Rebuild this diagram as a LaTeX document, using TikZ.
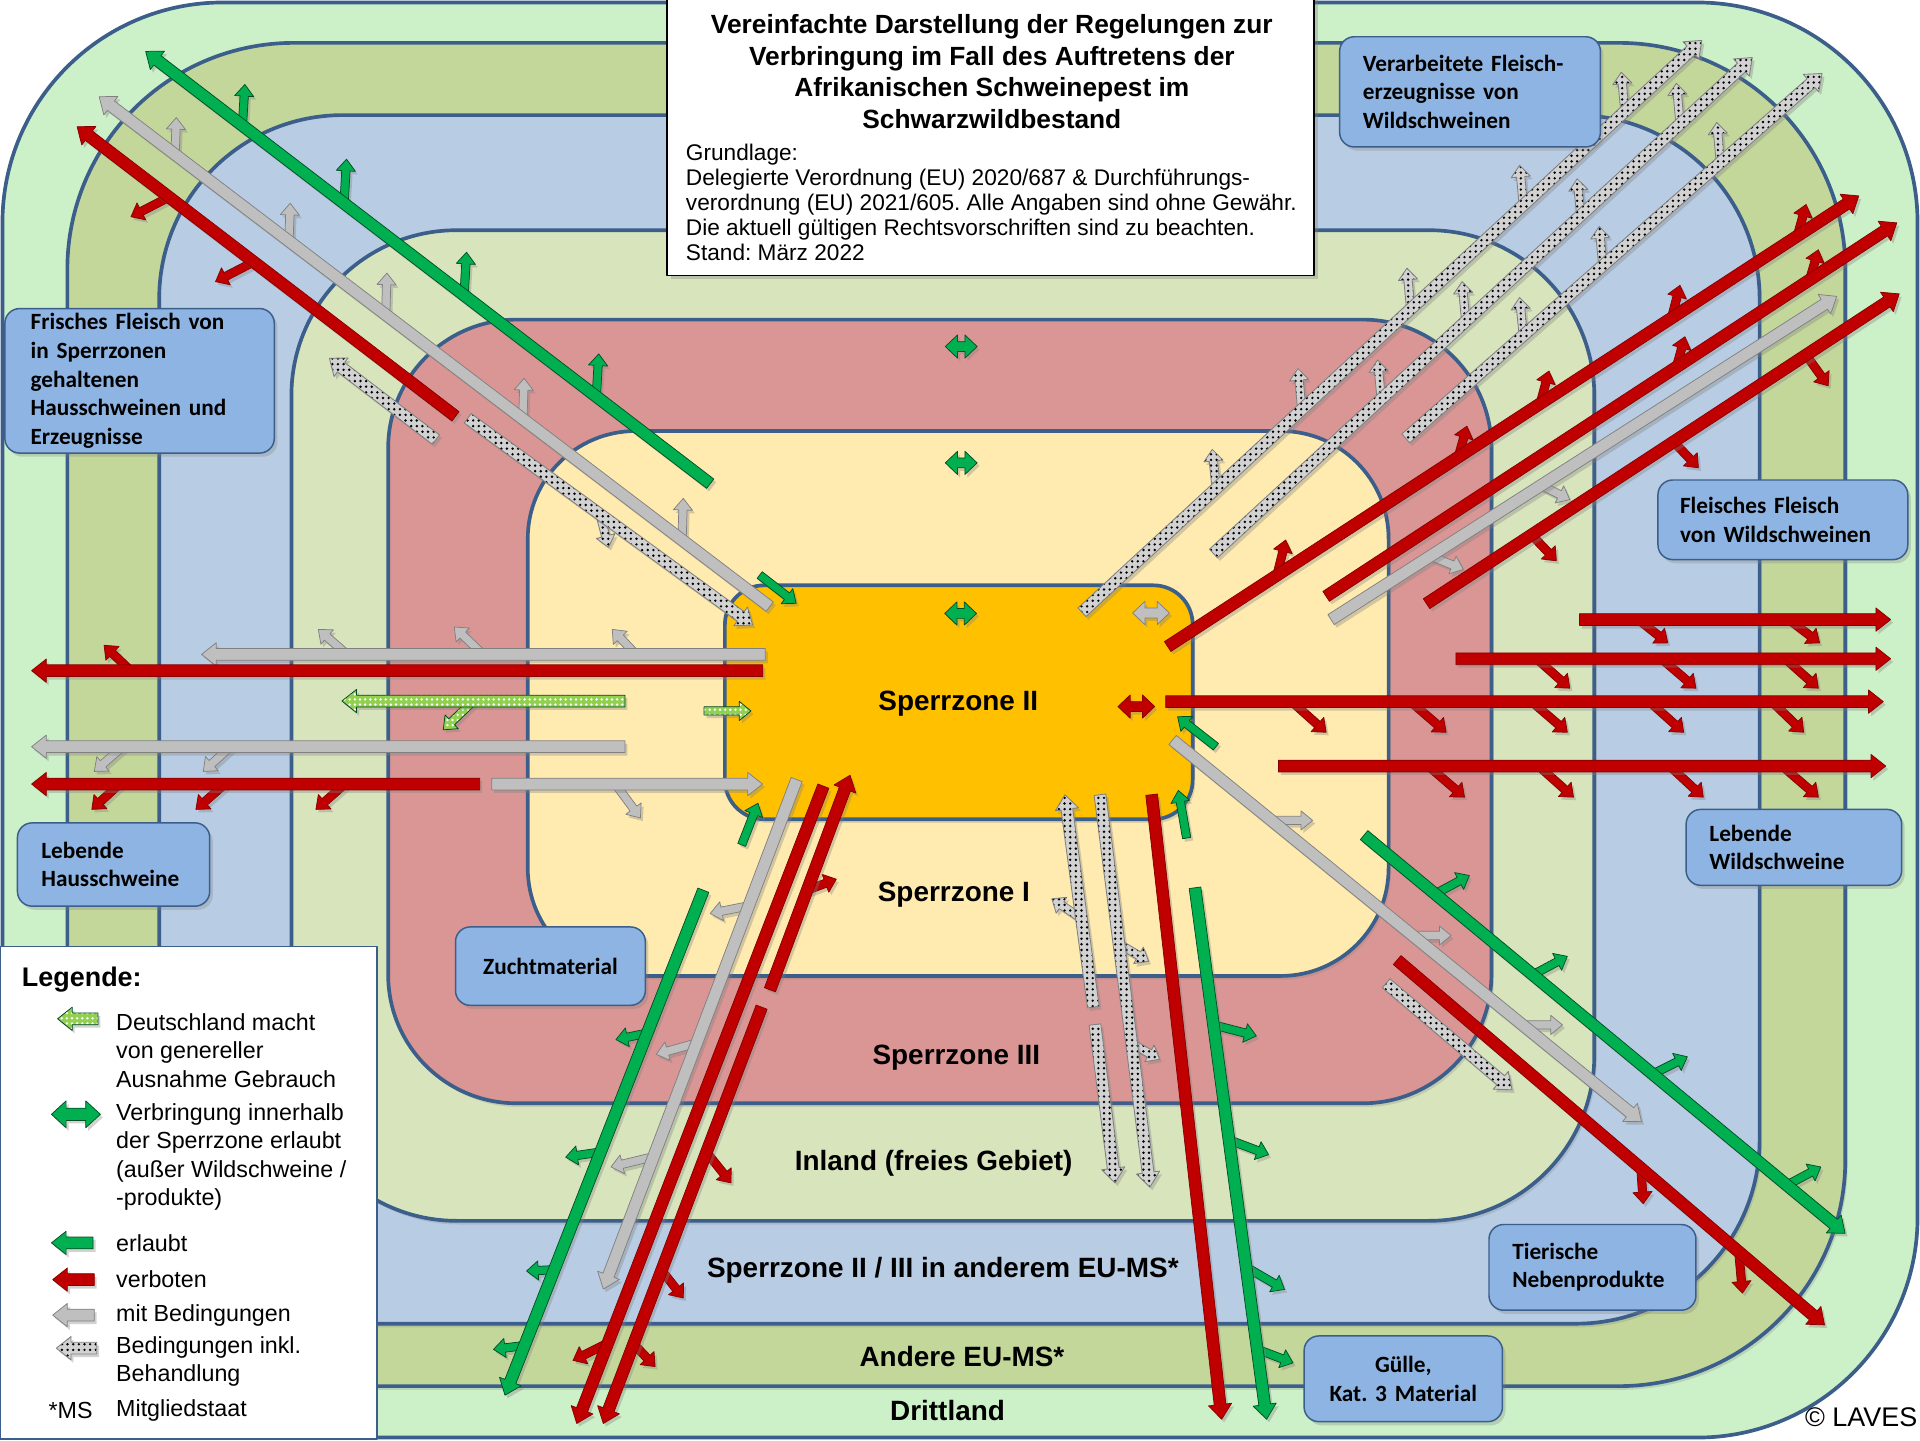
\documentclass[tikz,border=0pt]{standalone}
\usepackage{fontspec}
\setmainfont{Liberation Sans}
\newfontfamily\calfont{Carlito}
\usetikzlibrary{shadows,patterns.meta}
\frenchspacing

\definecolor{cdritt}{RGB}{204,240,200}
\definecolor{cander}{RGB}{196,215,155}
\definecolor{cblue}{RGB}{184,204,228}
\definecolor{cinland}{RGB}{216,228,188}
\definecolor{csztri}{RGB}{218,150,148}
\definecolor{cszone}{RGB}{255,235,175}
\definecolor{csztwo}{RGB}{255,192,0}
\definecolor{zoneline}{RGB}{59,94,138}
\definecolor{boxblue}{RGB}{141,180,226}
\definecolor{ared}{RGB}{192,0,0}
\definecolor{agreen}{RGB}{0,176,80}
\definecolor{agray}{RGB}{191,191,191}
\definecolor{adot}{RGB}{210,210,210}
\definecolor{adotgreen}{RGB}{146,208,80}

% block arrow: shaft half width, head half width, head length, style, x1, y1, x2 (tip), y2
\newcommand{\arrowpoly}[8]{%
  \pgfmathsetmacro{\adx}{#7-#5}%
  \pgfmathsetmacro{\ady}{#8-#6}%
  \pgfmathsetmacro{\alen}{veclen(\adx,\ady)}%
  \pgfmathsetmacro{\aux}{\adx/\alen}%
  \pgfmathsetmacro{\auy}{\ady/\alen}%
  \pgfmathsetmacro{\bx}{#7-#3*\aux}%
  \pgfmathsetmacro{\by}{#8-#3*\auy}%
  \draw[#4] ({#5-#1*\auy},{#6+#1*\aux}) -- ({\bx-#1*\auy},{\by+#1*\aux}) -- ({\bx-#2*\auy},{\by+#2*\aux}) -- (#7,#8)
    -- ({\bx+#2*\auy},{\by-#2*\aux}) -- ({\bx+#1*\auy},{\by-#1*\aux}) -- ({#5+#1*\auy},{#6-#1*\aux}) -- cycle;}
\newcommand{\bigarrow}[5]{\arrowpoly{4.8}{9.5}{12}{#1}{#2}{#3}{#4}{#5}}
\newcommand{\tinyarrow}[5]{\arrowpoly{3.4}{7.8}{9.5}{#1}{#2}{#3}{#4}{#5}}
% style, cx, cy, half length, shaft half width, head half width, head length
\newcommand{\dblarrow}[7]{%
  \draw[#1] ({#2-#4},#3) -- ({#2-#4+#7},{#3-#6}) -- ({#2-#4+#7},{#3-#5}) -- ({#2+#4-#7},{#3-#5}) -- ({#2+#4-#7},{#3-#6}) -- ({#2+#4},#3)
    -- ({#2+#4-#7},{#3+#6}) -- ({#2+#4-#7},{#3+#5}) -- ({#2-#4+#7},{#3+#5}) -- ({#2-#4+#7},{#3+#6}) -- cycle;}

\begin{document}
\begin{tikzpicture}[x=1pt,y=-1pt,line join=round,
  zone/.style={draw=zoneline,line width=3pt},
  zshadow/.style={drop shadow={opacity=0.25,shadow xshift=2pt,shadow yshift=-3pt}},
  ashadow/.style={drop shadow={opacity=0.35,shadow xshift=2pt,shadow yshift=-2.5pt}},
  redarr/.style={ashadow,fill=ared,draw=ared!70!black,line width=0.6pt},
  greenarr/.style={ashadow,fill=agreen,draw=agreen!45!black,line width=0.6pt},
  grayarr/.style={ashadow,fill=agray,draw=black!50,line width=0.6pt},
  dotarr/.style={ashadow,preaction={fill=adot},pattern={Dots[distance=4.6pt,radius=1.1pt]},pattern color=black,draw=black!50,line width=0.7pt},
  dotgreenarr/.style={ashadow,preaction={fill=adotgreen},pattern={Dots[distance=4.2pt,radius=1.1pt]},pattern color=white,draw=agreen!40!black,line width=0.6pt},
  labelbox/.style={draw=zoneline,line width=1.2pt,fill=boxblue,rounded corners=12pt,
    drop shadow={opacity=0.3,shadow xshift=2.5pt,shadow yshift=-3pt},
    font=\calfont\bfseries\fontsize{19}{23.3}\selectfont,inner ysep=0pt},
  zonelabel/.style={font=\bfseries\fontsize{22.8}{26}\selectfont},
  legendtext/.style={anchor=west,align=left,inner sep=0pt,font=\fontsize{19}{23.3}\selectfont}
]
\useasboundingbox (0,0) rectangle (1568,1176);

% zones
\draw[zone,fill=cdritt,rounded corners=180pt] (2,2) rectangle (1566,1174);
\draw[zone,zshadow,fill=cander,rounded corners=185pt] (55,35) rectangle (1507,1132);
\draw[zone,zshadow,fill=cblue,rounded corners=150pt] (130,94) rectangle (1437,1081);
\draw[zone,zshadow,fill=cinland,rounded corners=135pt] (238,188) rectangle (1302,997);
\draw[zone,zshadow,fill=csztri,rounded corners=105pt] (317,261) rectangle (1218,901);
\draw[zone,zshadow,fill=cszone,rounded corners=88pt] (431,352) rectangle (1134,797);
\draw[zone,zshadow,fill=csztwo,rounded corners=32pt] (592,478) rectangle (974,669);

% side arrows
\tinyarrow{greenarr}{198}{102}{200}{69}
\tinyarrow{greenarr}{281}{166}{283}{130}
\tinyarrow{greenarr}{379}{241}{381}{206}
\tinyarrow{greenarr}{487}{323}{489}{289}
\tinyarrow{grayarr}{143}{126}{144}{96}
\tinyarrow{grayarr}{236}{197}{237}{166}
\tinyarrow{grayarr}{315}{257}{316}{223}
\tinyarrow{grayarr}{427}{342}{428}{309}
\tinyarrow{grayarr}{557}{441}{558}{407}
\tinyarrow{redarr}{138}{161}{107}{177}
\tinyarrow{redarr}{207}{214}{176}{230}
\tinyarrow{dotarr}{490}{420}{497}{447}
\tinyarrow{grayarr}{283}{534}{260}{514}
\tinyarrow{grayarr}{394}{534}{371}{512}
\tinyarrow{grayarr}{519}{534}{500}{514}
\tinyarrow{redarr}{106}{547}{85}{527}
\tinyarrow{dotgreenarr}{386}{573}{362}{596}
\tinyarrow{grayarr}{100}{610}{77}{630}
\tinyarrow{grayarr}{188}{610}{166}{630}
\tinyarrow{redarr}{98}{640}{75}{661}
\tinyarrow{redarr}{184}{640}{160}{661}
\tinyarrow{redarr}{282}{640}{258}{661}
\tinyarrow{grayarr}{503}{641}{523}{668}
\tinyarrow{grayarr}{610}{740}{580}{746}
\tinyarrow{grayarr}{568}{852}{536}{861}
\tinyarrow{grayarr}{532}{945}{499}{953}
\tinyarrow{greenarr}{527}{844}{503}{849}
\tinyarrow{greenarr}{489}{941}{462}{945}
\tinyarrow{greenarr}{451}{1037}{430}{1038}
\tinyarrow{greenarr}{427}{1099}{403}{1102}
\tinyarrow{redarr}{659}{727}{683}{718}
\tinyarrow{redarr}{496}{1097}{468}{1111}
\tinyarrow{redarr}{577}{941}{597}{966}
\tinyarrow{redarr}{540}{1037}{558}{1060}
\tinyarrow{redarr}{517}{1097}{535}{1116}
\tinyarrow{dotarr}{883}{750}{859}{734}
\tinyarrow{dotarr}{914}{771}{938}{785}
\tinyarrow{dotarr}{924}{852}{947}{865}
\tinyarrow{greenarr}{991}{837}{1026}{846}
\tinyarrow{greenarr}{1004}{931}{1036}{943}
\tinyarrow{greenarr}{1018}{1035}{1049}{1053}
\tinyarrow{greenarr}{1027}{1102}{1056}{1113}
\tinyarrow{grayarr}{1040}{670}{1072}{670}
\tinyarrow{grayarr}{1152}{764}{1185}{764}
\tinyarrow{grayarr}{1243}{837}{1276}{837}
\tinyarrow{greenarr}{1172}{730}{1200}{715}
\tinyarrow{greenarr}{1252}{796}{1280}{781}
\tinyarrow{greenarr}{1350}{877}{1378}{863}
\tinyarrow{greenarr}{1459}{968}{1487}{953}
\tinyarrow{redarr}{1340}{953}{1342}{983}
\tinyarrow{redarr}{1420}{1022}{1423}{1056}
\tinyarrow{redarr}{1338}{506}{1362}{525}
\tinyarrow{redarr}{1461}{506}{1486}{525}
\tinyarrow{redarr}{1255}{538}{1282}{562}
\tinyarrow{redarr}{1357}{538}{1385}{562}
\tinyarrow{redarr}{1458}{538}{1485}{562}
\tinyarrow{redarr}{1055}{573}{1083}{598}
\tinyarrow{redarr}{1152}{573}{1181}{598}
\tinyarrow{redarr}{1251}{573}{1280}{598}
\tinyarrow{redarr}{1347}{573}{1375}{598}
\tinyarrow{redarr}{1447}{573}{1473}{598}
\tinyarrow{redarr}{1167}{626}{1196}{651}
\tinyarrow{redarr}{1257}{626}{1285}{651}
\tinyarrow{redarr}{1364}{626}{1391}{651}
\tinyarrow{redarr}{1456}{626}{1485}{651}
\tinyarrow{grayarr}{1258}{396}{1282}{408}
\tinyarrow{grayarr}{1168}{454}{1195}{465}
\tinyarrow{redarr}{1043}{469}{1050}{441}
\tinyarrow{redarr}{1191}{373}{1198}{348}
\tinyarrow{redarr}{1258}{329}{1265}{303}
\tinyarrow{redarr}{1365}{260}{1372}{233}
\tinyarrow{redarr}{1468}{192}{1475}{167}
\tinyarrow{redarr}{1369}{300}{1376}{275}
\tinyarrow{redarr}{1478}{228}{1485}{204}
\tinyarrow{redarr}{1251}{437}{1271}{458}
\tinyarrow{redarr}{1367}{361}{1387}{382}
\tinyarrow{redarr}{1475}{290}{1493}{315}
\tinyarrow{dotarr}{993}{397}{990}{367}
\tinyarrow{dotarr}{1063}{333}{1060}{301}
\tinyarrow{dotarr}{1152}{252}{1149}{219}
\tinyarrow{dotarr}{1244}{167}{1241}{135}
\tinyarrow{dotarr}{1327}{91}{1324}{59}
\tinyarrow{dotarr}{1128}{326}{1125}{294}
\tinyarrow{dotarr}{1197}{262}{1194}{230}
\tinyarrow{dotarr}{1291}{176}{1288}{146}
\tinyarrow{dotarr}{1372}{101}{1369}{68}
\tinyarrow{dotarr}{1244}{274}{1241}{243}
\tinyarrow{dotarr}{1309}{217}{1306}{185}
\tinyarrow{dotarr}{1405}{133}{1402}{100}

% main arrows
\bigarrow{greenarr}{580}{395}{119}{42}
\bigarrow{grayarr}{628.6}{495.4}{81}{79}
\bigarrow{redarr}{372}{340}{63}{103.5}
\bigarrow{dotarr}{356}{359}{269}{292.6}
\bigarrow{dotarr}{382}{341.6}{614.6}{510.4}
\bigarrow{grayarr}{625}{534.4}{164.6}{534.4}
\bigarrow{redarr}{623}{547.7}{25.8}{547.7}
\bigarrow{dotgreenarr}{510.4}{572.5}{279.2}{572.5}
\bigarrow{grayarr}{510.4}{609.8}{25.8}{609.8}
\bigarrow{redarr}{391.7}{640.3}{25.8}{640.3}
\bigarrow{grayarr}{401.6}{640.3}{622.7}{640.3}
\bigarrow{greenarr}{574.4}{727}{412.4}{1139.4}
\bigarrow{grayarr}{650.6}{636.6}{492.7}{1052.7}
\bigarrow{redarr}{628.8}{808.3}{694.2}{633.1}
\bigarrow{redarr}{672.4}{642}{471}{1162.5}
\bigarrow{redarr}{622}{822.5}{492.7}{1162.5}
\bigarrow{dotarr}{892.9}{822.5}{869.7}{649}
\bigarrow{dotarr}{898.3}{649}{939.1}{969.5}
\bigarrow{dotarr}{894.2}{836.7}{910.6}{966}
\bigarrow{redarr}{940.5}{649}{997.7}{1159}
\bigarrow{greenarr}{975.9}{725}{1034.4}{1159}
\bigarrow{grayarr}{957.6}{604.3}{1340.5}{916}
\bigarrow{greenarr}{1114}{682}{1506.8}{1007.2}
\bigarrow{redarr}{1141}{784}{1490}{1082}
\bigarrow{dotarr}{1132}{803}{1234.8}{890}
\bigarrow{redarr}{1290}{506}{1544}{506}
\bigarrow{redarr}{1189}{538}{1544}{538}
\bigarrow{redarr}{952}{573}{1538}{573}
\bigarrow{redarr}{1044}{625.6}{1540}{625.6}
\bigarrow{dotarr}{883.6}{500}{1389.8}{33}
\bigarrow{dotarr}{991}{452}{1431}{47}
\bigarrow{dotarr}{1148}{358}{1488}{60}
\bigarrow{redarr}{953.6}{528}{1518}{160}
\bigarrow{redarr}{1083}{487}{1549}{182}
\bigarrow{grayarr}{1087}{506}{1500}{242}
\bigarrow{redarr}{1165}{493}{1551}{240}

% short arrows at Sperrzone II
\tinyarrow{greenarr}{620.4}{469.6}{650.2}{492.7}
\tinyarrow{dotgreenarr}{575}{580.6}{613.3}{580.6}
\tinyarrow{greenarr}{605.7}{690}{619}{656}
\tinyarrow{greenarr}{969.1}{684.4}{962.3}{645.5}
\tinyarrow{greenarr}{993}{609.8}{961.7}{585.3}
\dblarrow{greenarr}{785}{283}{13}{4}{9.5}{10}
\dblarrow{greenarr}{785}{378}{13}{4}{9.5}{10}
\dblarrow{greenarr}{784.5}{501}{13}{4}{9.5}{10}
\dblarrow{grayarr}{940}{500.6}{15}{4}{9.5}{10}
\dblarrow{redarr}{928}{577}{15}{4}{9.5}{10}

% zone names
\node[zonelabel] (lsztwo) at (782.6,575) {Sperrzone II};
\node[zonelabel] (lszone) at (779,731) {Sperrzone I};
\node[zonelabel] (lsztri) at (781,864) {Sperrzone III};
\node[zonelabel] (linland) at (762.5,950) {Inland (freies Gebiet)};
\node[zonelabel] (lszeu) at (770,1037) {Sperrzone II / III in anderem EU-MS*};
\node[zonelabel] (lander) at (785.6,1108) {Andere EU-MS*};
\node[zonelabel] (ldritt) at (773.8,1152) {Drittland};
\node[font=\fontsize{22}{26}\selectfont,anchor=east,inner sep=0pt] (laves) at (1566,1157) {\textcopyright{} LAVES};

% goods
\node[labelbox,text width=178pt,inner xsep=21pt,minimum height=118pt,align=left] (frisch) at (114,311)
  {Frisches Fleisch von\\in Sperrzonen\\gehaltenen\\Hausschweinen und\\Erzeugnisse};
\node[labelbox,text width=175pt,inner xsep=19pt,minimum height=90pt,align=left] (verarb) at (1200.5,75)
  {Verarbeitete Fleisch-\\erzeugnisse von\\Wildschweinen};
\node[labelbox,text width=168pt,inner xsep=18pt,minimum height=65pt,align=left] (wildfl) at (1456,424.5)
  {Fleisches Fleisch\\von Wildschweinen};
\node[labelbox,text width=138pt,inner xsep=19pt,minimum height=62pt,align=left] (wildl) at (1465,692)
  {Lebende\\Wildschweine};
\node[labelbox,text width=118pt,inner xsep=19.5pt,minimum height=68pt,align=left] (hausl) at (92.75,706)
  {Lebende\\Hausschweine};
\node[labelbox,minimum width=155pt,minimum height=64pt,align=center] (zucht) at (449.5,789) {Zuchtmaterial};
\node[labelbox,text width=131pt,inner xsep=19pt,minimum height=70pt,align=left] (tnp) at (1300.5,1035)
  {Tierische\\Nebenprodukte};
\node[labelbox,text width=140pt,inner xsep=11pt,minimum height=70pt,align=center] (guelle) at (1146,1126)
  {Gülle,\\Kat. 3 Material};

% title
\node[draw=black,line width=1.5pt,fill=white,minimum width=528pt,minimum height=228pt,
  drop shadow={opacity=0.35,shadow xshift=3pt,shadow yshift=-3pt}] (titlebox) at (809,111) {};
\node[align=center,inner sep=0pt,font=\bfseries\fontsize{21.5}{26}\selectfont] (title) at (810,58.5)
  {Vereinfachte Darstellung der Regelungen zur\\Verbringung im Fall des Auftretens der\\Afrikanischen Schweinepest im\\Schwarzwildbestand};
\node[anchor=west,align=left,inner sep=0pt,font=\fontsize{18.5}{20.4}\selectfont] (basis) at (560,165)
  {Grundlage:\\Delegierte Verordnung (EU) 2020/687 \& Durchführungs-\\verordnung (EU) 2021/605. Alle Angaben sind ohne Gewähr.\\Die aktuell gültigen Rechtsvorschriften sind zu beachten.\\Stand: März 2022};

% legend
\node[draw=zoneline,line width=1.2pt,fill=white,minimum width=308pt,minimum height=402pt] (legendbox) at (154,974) {};
\node[anchor=west,inner sep=0pt,font=\bfseries\fontsize{22}{26}\selectfont] (legtitle) at (17.7,800) {Legende:};
\bigarrow{dotgreenarr}{80}{832}{47}{832}
\dblarrow{greenarr}{62}{910}{20}{5}{11}{12}
\bigarrow{greenarr}{76}{1015}{42}{1015}
\bigarrow{redarr}{77}{1045}{43}{1045}
\bigarrow{grayarr}{77}{1074}{43}{1074}
\bigarrow{dotarr}{79}{1101}{46}{1101}
\node[legendtext] (legone) at (94.7,858) {Deutschland macht\\von genereller\\Ausnahme Gebrauch};
\node[legendtext] (legtwo) at (94.7,945) {Verbringung innerhalb\\der Sperrzone erlaubt\\(außer Wildschweine /\\-produkte)};
\node[legendtext] (legok) at (94.7,1015) {erlaubt};
\node[legendtext] (legno) at (94.7,1045) {verboten};
\node[legendtext] (legcond) at (94.7,1074) {mit Bedingungen};
\node[legendtext] (legtreat) at (94.7,1112) {Bedingungen inkl.\\Behandlung};
\node[legendtext] (legms) at (39.5,1151.5) {*MS};
\node[legendtext] (legmsx) at (94.7,1151.5) {Mitgliedstaat};
\end{tikzpicture}
\end{document}
